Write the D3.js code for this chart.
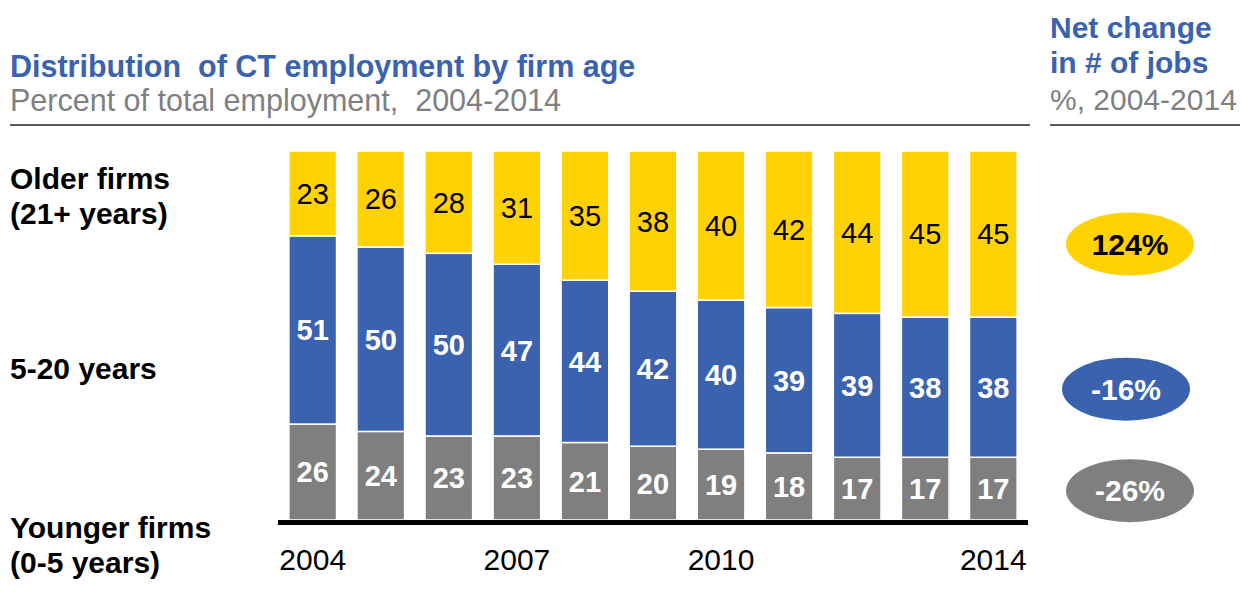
<!DOCTYPE html>
<html>
<head>
<meta charset="utf-8">
<script src="https://cdn.jsdelivr.net/npm/d3@7"></script>
<style>
  body { margin: 0; background: #fff; }
  svg text { font-family: "Liberation Sans", Arial, sans-serif; }
</style>
</head>
<body>
<div id="chart"></div>
<script>
// data (percent of total employment)
var years = [2004, 2005, 2006, 2007, 2008, 2009, 2010, 2011, 2012, 2013, 2014];
var younger = [26, 24, 23, 23, 21, 20, 19, 18, 17, 17, 17];
var middle = [51, 50, 50, 47, 44, 42, 40, 39, 39, 38, 38];
var older = [23, 26, 28, 31, 35, 38, 40, 42, 44, 45, 45];
var tickYears = [2004, 2007, 2010, 2014];
var netChange = [124, -16, -26]; // older, 5-20, younger

var W = 1243, H = 593;
var blue = "#3A62AF", yellow = "#FFD204", grey = "#7F7F7F";

var svg = d3.select("#chart").append("svg")
    .attr("width", W)
    .attr("height", H);

var x = d3.scaleBand()
    .domain(years)
    .range([278, 1028])
    .paddingInner(0.3)
    .paddingOuter(0.16);

var y = d3.scaleLinear().domain([0, 100]).range([520, 151]);

// stack, each bar scaled to 100 since rounded values don't always add up
var rows = years.map(function(yr, i) {
  var tot = younger[i] + middle[i] + older[i];
  return {year: yr, younger: younger[i] * 100 / tot, middle: middle[i] * 100 / tot, older: older[i] * 100 / tot,
          raw: {younger: younger[i], middle: middle[i], older: older[i]}};
});
var keys = ["younger", "middle", "older"];
var fills = {younger: grey, middle: blue, older: yellow};
var labelFill = {younger: "#fff", middle: "#fff", older: "#000"};
var labelWeight = {younger: "bold", middle: "bold", older: "normal"};

var series = d3.stack().keys(keys)(rows);

var layers = svg.selectAll("g.layer")
  .data(series)
  .enter().append("g")
    .attr("class", "layer");

layers.selectAll("rect")
  .data(function(d) { return d; })
  .enter().append("rect")
    .attr("x", function(d) { return x(d.data.year); })
    .attr("y", function(d) { return y(d[1]); })
    .attr("width", x.bandwidth())
    .attr("height", function(d) { return y(d[0]) - y(d[1]); })
    .attr("fill", function() { return fills[d3.select(this.parentNode).datum().key]; })
    .attr("stroke", "#fff")
    .attr("stroke-width", 1.5);

layers.each(function(s) {
  d3.select(this).selectAll("text")
    .data(s)
    .enter().append("text")
      .attr("x", function(d) { return x(d.data.year) + x.bandwidth() / 2; })
      .attr("y", function(d) { return (y(d[0]) + y(d[1])) / 2; })
      .attr("dy", "0.36em")
      .attr("text-anchor", "middle")
      .style("font-size", "29px")
      .style("font-weight", labelWeight[s.key])
      .attr("fill", labelFill[s.key])
      .text(function(d) { return d.data.raw[s.key]; });
});

// baseline
svg.append("line")
    .attr("x1", 278).attr("x2", 1028)
    .attr("y1", 522.5).attr("y2", 522.5)
    .attr("stroke", "#000")
    .attr("stroke-width", 5);

// year labels
var xAxis = d3.axisBottom(x).tickValues(tickYears).tickSize(0).tickPadding(0);
var gx = svg.append("g")
    .attr("transform", "translate(0,548)")
    .call(xAxis);
gx.select(".domain").remove();
gx.selectAll("text")
    .attr("dy", "0.72em")
    .style("font-size", "30px")
    .style("font-family", "'Liberation Sans', Arial, sans-serif")
    .attr("fill", "#000");

// titles
svg.append("text")
    .attr("x", 10).attr("y", 77)
    .style("white-space", "pre")
    .style("font-size", "30.5px").style("font-weight", "bold")
    .attr("fill", blue)
    .text("Distribution  of CT employment by firm age");
svg.append("text")
    .attr("x", 10).attr("y", 111)
    .style("white-space", "pre")
    .style("font-size", "30.5px")
    .attr("fill", grey)
    .text("Percent of total employment,  2004-2014");
svg.append("line")
    .attr("x1", 10).attr("x2", 1030)
    .attr("y1", 125).attr("y2", 125)
    .attr("stroke", "#222").attr("stroke-width", 1.5);

svg.append("text")
    .attr("x", 1050).attr("y", 38)
    .style("font-size", "30px").style("font-weight", "bold")
    .attr("fill", blue)
    .text("Net change");
svg.append("text")
    .attr("x", 1050).attr("y", 73)
    .style("font-size", "30px").style("font-weight", "bold")
    .attr("fill", blue)
    .text("in # of jobs");
svg.append("text")
    .attr("x", 1050).attr("y", 110)
    .style("font-size", "30px")
    .attr("fill", grey)
    .text("%, 2004-2014");
svg.append("line")
    .attr("x1", 1050).attr("x2", 1240)
    .attr("y1", 125).attr("y2", 125)
    .attr("stroke", "#222").attr("stroke-width", 1.5);

// category labels on the left
var catLabels = [
  {lines: ["Older firms", "(21+ years)"], y: 189},
  {lines: ["5-20 years"], y: 379},
  {lines: ["Younger firms", "(0-5 years)"], y: 538}
];
catLabels.forEach(function(c) {
  c.lines.forEach(function(t, i) {
    svg.append("text")
      .attr("x", 10).attr("y", c.y + i * 35)
      .style("font-size", "30px").style("font-weight", "bold")
      .attr("fill", "#000")
      .text(t);
  });
});

// net change bubbles, placed at the 2014 bar segments
var last = series.map(function(s) { return s[s.length - 1]; });
var bubbleKeys = ["older", "middle", "younger"];
var nudge = {older: 10, middle: 2, younger: 2};
var bubbleX = {older: 1130, middle: 1126, younger: 1130};
var bubbles = svg.selectAll("g.bubble")
  .data(bubbleKeys.map(function(k, i) {
    var seg = last[keys.indexOf(k)];
    return {key: k, value: netChange[i], cy: (y(seg[0]) + y(seg[1])) / 2 + nudge[k]};
  }))
  .enter().append("g")
    .attr("class", "bubble")
    .attr("transform", function(d) { return "translate(" + bubbleX[d.key] + "," + d.cy + ")"; });

bubbles.append("ellipse")
    .attr("rx", 64).attr("ry", 31.5)
    .attr("fill", function(d) { return fills[d.key]; });
bubbles.append("text")
    .attr("text-anchor", "middle")
    .attr("dy", "0.36em")
    .style("font-size", "30px").style("font-weight", "bold")
    .attr("fill", function(d) { return d.key === "older" ? "#000" : "#fff"; })
    .text(function(d) { return d.value + "%"; });
</script>
</body>
</html>
